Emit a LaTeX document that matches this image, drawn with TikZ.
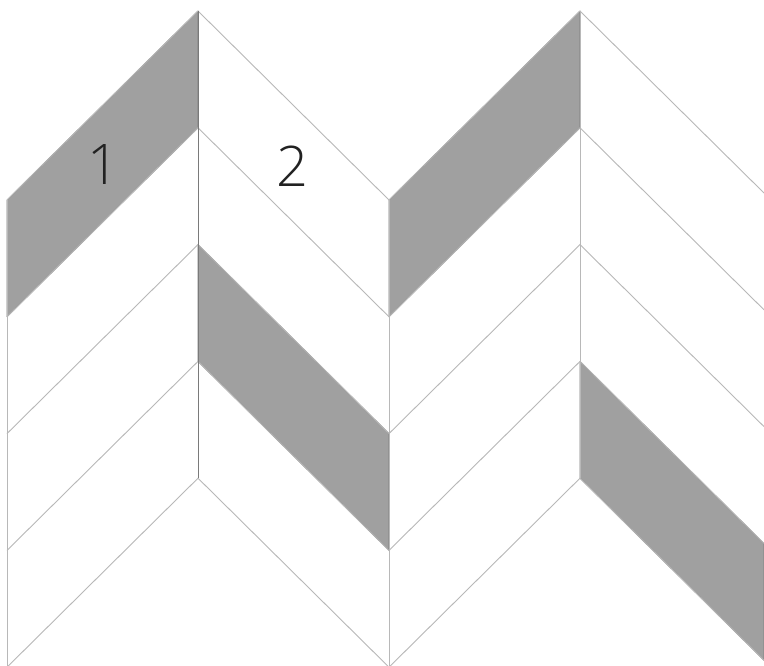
\documentclass[tikz,border=0pt]{standalone}
\usepackage{fontspec}
\setmainfont{Liberation Sans}
\newfontfamily\labfont{Open Sans}[UprightFont=* Light]
\definecolor{bandgray}{HTML}{A0A0A0}
\definecolor{linegray}{HTML}{B8B8B8}
\definecolor{edgegray}{HTML}{7A7A7A}
\definecolor{labgray}{HTML}{222222}
\begin{document}
\begin{tikzpicture}[x=1pt,y=-1pt,
  seam/.style={draw=linegray,line width=0.9pt},
  darkseam/.style={draw=edgegray,line width=0.9pt},
  band/.style={fill=bandgray,draw=edgegray,line width=0.7pt,line join=round},
  numlabel/.style={text=labgray,font=\labfont\fontsize{56}{56}\selectfont,inner sep=0pt}]
\useasboundingbox (0,0) rectangle (764,666);
\fill[white] (0,0) rectangle (764,666);
\begin{scope}
\clip (0,0) rectangle (764,666);
% shaded bands
\path[band] (7,200) -- (198,11) -- (198,127.8) -- (7,316.8) -- cycle;
\path[band] (198,244.6) -- (389,433.6) -- (389,550.4) -- (198,361.4) -- cycle;
\path[band] (389,200) -- (580,11) -- (580,127.8) -- (389,316.8) -- cycle;
\path[band] (580,361.4) -- (764,543.5) -- (764,660.3) -- (580,478.2) -- cycle;
% diagonal seams
\foreach \k in {0,...,4}{
  \pgfmathsetmacro{\yt}{11+116.8*\k}
  \pgfmathsetmacro{\yb}{200+116.8*\k}
  \pgfmathsetmacro{\yr}{193+116.8*\k}
  \draw[seam] (7,\yb) -- (198,\yt) -- (389,\yb) -- (580,\yt) -- (764,\yr);
}
% vertical seams
\draw[seam] (7,200) -- (7,667);
\draw[darkseam] (198,11) -- (198,478.2);
\draw[seam] (389,200) -- (389,667);
\draw[seam] (580,11) -- (580,478.2);
\end{scope}
\node[numlabel] (n1) at (103,165) {1};
\node[numlabel] (n2) at (292,166) {2};
\end{tikzpicture}
\end{document}
